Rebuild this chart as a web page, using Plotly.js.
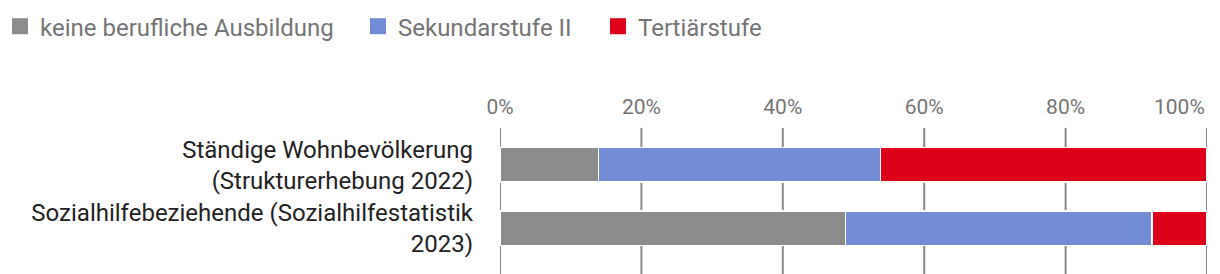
<!DOCTYPE html>
<html><head><meta charset="utf-8">
<script src="https://cdn.plot.ly/plotly-3.0.1.min.js"></script>
<style>body{margin:0;background:#fff}#c{width:1220px;height:274px}</style>
</head><body><div id="c"></div>
<script>
const categories = ["Ständige Wohnbevölkerung<br>(Strukturerhebung 2022)", "Sozialhilfebeziehende (Sozialhilfestatistik<br>2023)"];
const seriesNames = ["keine berufliche Ausbildung", "Sekundarstufe II", "Tertiärstufe"];
const keineAusbildung = [13.9, 48.9];
const sekundarstufe = [39.9, 43.3];
const tertiaer = [46.2, 7.8];
const tickVals = [0, 20, 40, 60, 80, 100];
const tickText = ["0%", "20%", "40%", "60%", "80%", "100%"];
const colors = ["#8c8c8c", "#738cd6", "#dc0019"];
const values = [keineAusbildung, sekundarstufe, tertiaer];
const legendIds = ["legend", "legend2", "legend3"];
const legendX = [0, 358 / 1220, 598 / 1220];
const traces = values.map((v, i) => ({
  type: "bar", orientation: "h", name: seriesNames[i], x: v, y: categories,
  marker: {color: colors[i], line: {color: "#ffffff", width: 1.5}},
  showlegend: false, hoverinfo: "x+name"
}));
// legend entries (square markers)
seriesNames.forEach((n, i) => traces.push({
  type: "scatter", mode: "markers", name: n, x: [null], y: [null], legend: legendIds[i],
  marker: {symbol: "square", size: 16, color: colors[i]}, showlegend: true, hoverinfo: "skip"
}));
const lastIdx = tickVals.length - 1;
const shapes = tickVals.map(v => ({
  type: "line", xref: "x", yref: "paper", x0: v, x1: v, y0: -0.12, y1: 1.04,
  line: {color: "#8a8a8a", width: 2}, layer: "below"
}));
const annotations = [{
  xref: "x", yref: "paper", x: tickVals[lastIdx], y: 1, yanchor: "bottom", xanchor: "right",
  yshift: 12, text: tickText[lastIdx], showarrow: false,
  font: {size: 21, color: "#757575"}
}];
const layout = {
  width: 1220, height: 274, barmode: "stack", bargap: 0.45,
  margin: {l: 500, r: 13, t: 133, b: 14},
  font: {family: "Roboto, sans-serif", size: 21, color: "#757575"},
  paper_bgcolor: "#fff", plot_bgcolor: "rgba(0,0,0,0)",
  showlegend: true, shapes: shapes, annotations: annotations,
  xaxis: {side: "top", range: [0, 100], tickvals: tickVals.slice(0, lastIdx), ticktext: tickText.slice(0, lastIdx),
    showgrid: false, zeroline: false, showline: false,
    ticks: "", tickfont: {size: 21, color: "#757575"}, ticklabelstandoff: 14, fixedrange: true},
  yaxis: {autorange: "reversed", showgrid: false, ticks: "", showline: false, zeroline: false,
    tickfont: {size: 24, color: "#222222"}, ticklabelstandoff: 26, fixedrange: true}
};
legendIds.forEach((id, i) => {
  layout[id] = {orientation: "h", x: legendX[i], xref: "container", y: 0.985, yref: "container", yanchor: "top",
    font: {size: 24, color: "#757575"}, itemwidth: 30, bgcolor: "rgba(0,0,0,0)"};
});
Plotly.newPlot("c", traces, layout, {displayModeBar: false, staticPlot: true});
</script></body></html>
